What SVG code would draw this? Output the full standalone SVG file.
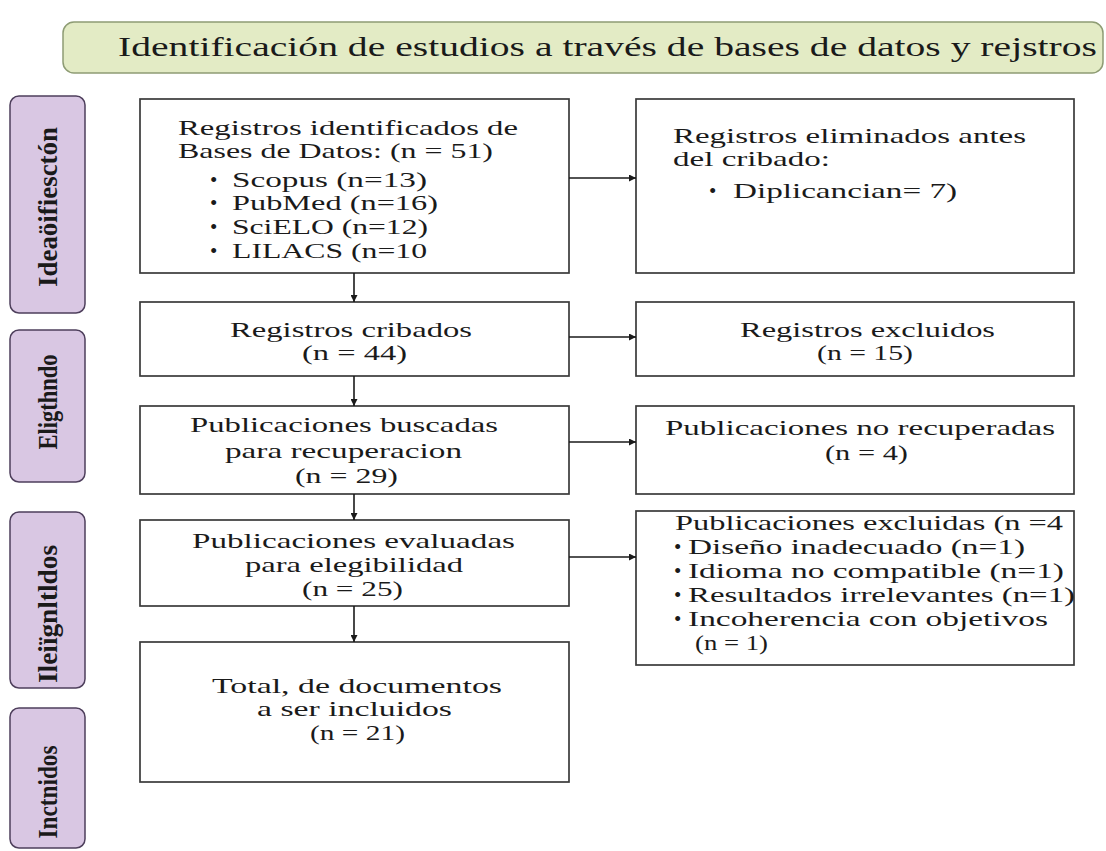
<svg xmlns="http://www.w3.org/2000/svg" width="1106" height="851" viewBox="0 0 1106 851">
<style>
.box{fill:#ffffff;stroke:#3a3a3a;stroke-width:1.7}
.side{fill:#d9c7e3;stroke:#4e3f5c;stroke-width:1.5}
.t{font-family:"Liberation Serif","Times New Roman",serif;font-size:21px;fill:#1a1a1a}
.st{font-family:"Liberation Serif","Times New Roman",serif;font-size:27px;font-weight:bold;fill:#1a1a1a}
.title{font-family:"Liberation Serif","Times New Roman",serif;font-size:28px;fill:#1a1a1a}
.conn{stroke:#1a1a1a;stroke-width:1.6;fill:none;marker-end:url(#ah)}
</style>
<defs>
<marker id="ah" viewBox="0 0 10 10" refX="10" refY="5" markerWidth="9" markerHeight="7" markerUnits="userSpaceOnUse" orient="auto">
<path d="M0,0 L10,5 L0,10 z" fill="#1a1a1a"/>
</marker>
</defs>
<rect width="1106" height="851" fill="#ffffff"/>

<g id="banner">
<rect x="63" y="22" width="1040" height="51" rx="11" fill="#e3ebc5" stroke="#8e9c74" stroke-width="1.5"/>
<text class="title" x="118" y="56" textLength="979" lengthAdjust="spacingAndGlyphs">Identificación de estudios a través de bases de datos y rejstros</text>
</g>

<g id="side-identificacion">
<rect class="side" x="10" y="96" width="75" height="217" rx="9"/>
<text class="st" transform="translate(57,207) rotate(-90)" text-anchor="middle" textLength="160" lengthAdjust="spacingAndGlyphs">Ideaöifiesctón</text>
</g>
<g id="side-eligthndo">
<rect class="side" x="10" y="330" width="75" height="152" rx="9"/>
<text class="st" transform="translate(57,402) rotate(-90)" text-anchor="middle" textLength="95" lengthAdjust="spacingAndGlyphs">Eligthndo</text>
</g>
<g id="side-ileiignltldos">
<rect class="side" x="10" y="512" width="75" height="176" rx="9"/>
<text class="st" transform="translate(57,614) rotate(-90)" text-anchor="middle" textLength="138" lengthAdjust="spacingAndGlyphs">Ileiïgnltldos</text>
</g>
<g id="side-inctnidos">
<rect class="side" x="10" y="708" width="75" height="140" rx="9"/>
<text class="st" transform="translate(57,792) rotate(-90)" text-anchor="middle" textLength="93" lengthAdjust="spacingAndGlyphs">Inctnidos</text>
</g>

<g id="node-identificados">
<rect class="box" x="140" y="99" width="429" height="174"/>
<text class="t" x="178" y="135" textLength="340" lengthAdjust="spacingAndGlyphs">Registros identificados de</text>
<text class="t" x="178" y="158" textLength="315" lengthAdjust="spacingAndGlyphs">Bases de Datos: (n = 51)</text>
<text class="t" x="210" y="187">•</text>
<text class="t" x="232" y="187" textLength="195" lengthAdjust="spacingAndGlyphs">Scopus (n=13)</text>
<text class="t" x="210" y="210">•</text>
<text class="t" x="232" y="210" textLength="206" lengthAdjust="spacingAndGlyphs">PubMed (n=16)</text>
<text class="t" x="210" y="234">•</text>
<text class="t" x="232" y="234" textLength="196" lengthAdjust="spacingAndGlyphs">SciELO (n=12)</text>
<text class="t" x="210" y="258">•</text>
<text class="t" x="232" y="258" textLength="195" lengthAdjust="spacingAndGlyphs">LILACS (n=10</text>
</g>

<g id="node-eliminados">
<rect class="box" x="636" y="99" width="438" height="174"/>
<text class="t" x="673" y="143" textLength="353" lengthAdjust="spacingAndGlyphs">Registros eliminados antes</text>
<text class="t" x="673" y="166" textLength="157" lengthAdjust="spacingAndGlyphs">del cribado:</text>
<text class="t" x="709" y="198">•</text>
<text class="t" x="733" y="198" textLength="224" lengthAdjust="spacingAndGlyphs">Diplicancian= 7)</text>
</g>

<g id="node-cribados">
<rect class="box" x="140" y="302" width="429" height="74"/>
<text class="t" x="230" y="337" textLength="242" lengthAdjust="spacingAndGlyphs">Registros cribados</text>
<text class="t" x="302" y="360" textLength="105" lengthAdjust="spacingAndGlyphs">(n = 44)</text>
</g>

<g id="node-excluidos">
<rect class="box" x="636" y="302" width="438" height="74"/>
<text class="t" x="740" y="337" textLength="255" lengthAdjust="spacingAndGlyphs">Registros excluidos</text>
<text class="t" x="817" y="360" textLength="96" lengthAdjust="spacingAndGlyphs">(n = 15)</text>
</g>

<g id="node-buscadas">
<rect class="box" x="140" y="406" width="429" height="88"/>
<text class="t" x="190" y="432" textLength="308" lengthAdjust="spacingAndGlyphs">Publicaciones buscadas</text>
<text class="t" x="225" y="458" textLength="237" lengthAdjust="spacingAndGlyphs">para recuperacion</text>
<text class="t" x="295" y="483" textLength="103" lengthAdjust="spacingAndGlyphs">(n = 29)</text>
</g>

<g id="node-no-recuperadas">
<rect class="box" x="636" y="406" width="438" height="88"/>
<text class="t" x="665" y="435" textLength="390" lengthAdjust="spacingAndGlyphs">Publicaciones no recuperadas</text>
<text class="t" x="825" y="460" textLength="83" lengthAdjust="spacingAndGlyphs">(n = 4)</text>
</g>

<g id="node-evaluadas">
<rect class="box" x="140" y="520" width="429" height="86"/>
<text class="t" x="192" y="548" textLength="323" lengthAdjust="spacingAndGlyphs">Publicaciones evaluadas</text>
<text class="t" x="245" y="572" textLength="218" lengthAdjust="spacingAndGlyphs">para elegibilidad</text>
<text class="t" x="302" y="596" textLength="101" lengthAdjust="spacingAndGlyphs">(n = 25)</text>
</g>

<g id="node-excluidas">
<rect class="box" x="636" y="511" width="438" height="154"/>
<text class="t" x="675" y="530" textLength="388" lengthAdjust="spacingAndGlyphs">Publicaciones excluidas (n =4</text>
<text class="t" x="674" y="554">•</text>
<text class="t" x="688" y="554" textLength="337" lengthAdjust="spacingAndGlyphs">Diseño inadecuado (n=1)</text>
<text class="t" x="674" y="578">•</text>
<text class="t" x="688" y="578" textLength="376" lengthAdjust="spacingAndGlyphs">Idioma no compatible (n=1)</text>
<text class="t" x="674" y="602">•</text>
<text class="t" x="688" y="602" textLength="387" lengthAdjust="spacingAndGlyphs">Resultados irrelevantes (n=1)</text>
<text class="t" x="674" y="626">•</text>
<text class="t" x="688" y="626" textLength="360" lengthAdjust="spacingAndGlyphs">Incoherencia con objetivos</text>
<text class="t" x="695" y="650" textLength="73" lengthAdjust="spacingAndGlyphs">(n = 1)</text>
</g>

<g id="node-total">
<rect class="box" x="140" y="642" width="429" height="140"/>
<text class="t" x="212" y="693" textLength="290" lengthAdjust="spacingAndGlyphs">Total, de documentos</text>
<text class="t" x="257" y="716" textLength="195" lengthAdjust="spacingAndGlyphs">a ser incluidos</text>
<text class="t" x="310" y="740" textLength="95" lengthAdjust="spacingAndGlyphs">(n = 21)</text>
</g>

<g id="connectors">
<line class="conn" x1="569" y1="178" x2="636" y2="178"/>
<line class="conn" x1="569" y1="337" x2="636" y2="337"/>
<line class="conn" x1="569" y1="442" x2="636" y2="442"/>
<line class="conn" x1="569" y1="557" x2="636" y2="557"/>
<line class="conn" x1="354" y1="273" x2="354" y2="302"/>
<line class="conn" x1="354" y1="376" x2="354" y2="406"/>
<line class="conn" x1="354" y1="494" x2="354" y2="520"/>
<line class="conn" x1="354" y1="606" x2="354" y2="642"/>
</g>
</svg>
